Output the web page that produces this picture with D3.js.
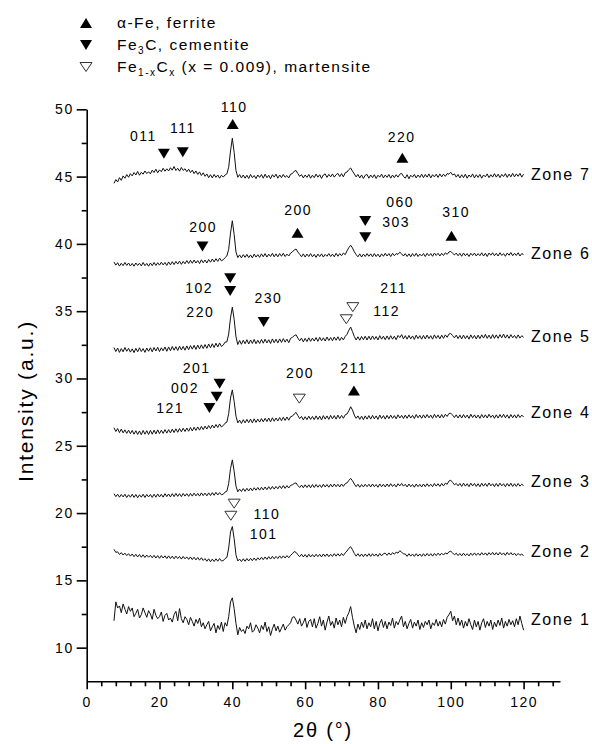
<!DOCTYPE html>
<html><head><meta charset="utf-8">
<script src="https://cdn.jsdelivr.net/npm/d3@7"></script>
<style>
body{margin:0;background:#fff;}
svg{display:block;}
text{font-family:Arial,"Liberation Sans",sans-serif;fill:#000;}
</style></head><body>
<svg id="chart" width="592" height="744"></svg>
<script>
// ---------------- DATA ----------------
// 2theta sampling grid (degrees), 7.5 .. 120 every 0.5
const twoTheta = d3.range(7.5, 120.001, 0.5);

const zone1 = [
12.00,13.40,12.95,13.10,12.60,13.25,12.85,12.50,13.05,12.70,
12.95,12.30,12.55,12.85,12.20,12.45,12.95,12.60,12.25,12.75,
12.50,12.10,12.85,12.40,12.15,12.30,12.65,11.95,12.40,12.55,
12.05,12.20,11.90,12.45,12.70,12.00,12.90,12.15,11.85,12.30,
12.10,11.70,12.25,11.95,11.60,12.10,11.80,12.20,11.55,11.85,
11.40,11.70,11.95,11.25,11.55,11.80,11.10,11.65,11.35,11.90,
11.20,11.85,11.60,12.30,13.40,13.70,12.90,11.80,10.95,11.50,
11.20,11.35,11.05,11.60,11.40,11.85,11.15,11.30,11.70,11.45,
11.10,11.65,11.35,11.90,11.20,11.55,10.90,11.40,11.75,11.25,
11.60,11.15,11.45,11.75,11.30,11.55,11.70,11.85,12.25,12.30,
12.05,11.75,12.15,11.60,11.85,12.20,11.50,11.95,12.10,11.55,
12.15,11.45,11.80,12.30,11.60,12.05,11.30,11.90,12.35,11.65,
11.95,11.45,12.20,11.70,12.05,11.55,12.25,11.80,12.30,12.60,
13.05,12.25,11.60,11.10,11.75,11.35,11.90,11.50,12.05,11.40,
11.85,11.55,12.15,11.40,11.95,11.25,11.80,12.10,11.50,11.95,
11.40,11.90,11.65,12.20,11.45,11.95,11.70,12.05,12.35,11.55,
11.95,11.40,11.80,12.10,11.45,11.90,11.60,12.05,11.35,11.85,
11.50,11.95,11.70,12.05,11.40,11.85,11.65,12.10,11.60,11.95,
11.55,12.10,11.75,12.25,12.45,12.70,12.00,12.35,11.70,12.20,
11.65,12.05,11.45,11.95,11.60,12.15,11.70,11.35,12.05,11.55,
11.95,11.30,11.85,12.15,11.50,11.95,11.60,12.05,11.35,11.90,
11.55,12.05,11.65,12.20,11.45,11.95,11.60,12.10,11.70,12.00,
11.55,12.15,11.70,12.35,11.80,11.30];

const zone2 = [
17.30,17.08,17.12,16.92,17.06,16.88,17.02,16.84,16.98,16.80,
16.96,16.76,16.94,16.74,16.92,16.72,16.90,16.70,16.88,16.72,
16.86,16.68,16.86,16.66,16.84,16.64,16.84,16.66,16.82,16.62,
16.82,16.62,16.80,16.60,16.80,16.62,16.78,16.58,16.78,16.60,
16.74,16.56,16.74,16.54,16.72,16.52,16.70,16.50,16.68,16.48,
16.62,16.42,16.60,16.38,16.58,16.40,16.60,16.42,16.62,16.44,
16.46,16.62,16.70,17.40,18.60,19.00,18.10,16.90,16.44,16.58,
16.40,16.60,16.42,16.62,16.44,16.64,16.46,16.66,16.48,16.68,
16.52,16.72,16.54,16.74,16.56,16.76,16.58,16.78,16.60,16.78,
16.62,16.82,16.64,16.82,16.66,16.84,16.68,16.86,16.98,17.14,
17.08,16.90,16.76,16.94,16.74,16.92,16.72,16.94,16.74,16.92,
16.74,16.94,16.76,16.94,16.74,16.96,16.78,16.96,16.76,16.94,
16.78,16.98,16.80,16.98,16.80,17.00,16.84,17.04,17.18,17.38,
17.50,17.28,17.00,16.80,16.98,16.78,16.96,16.76,16.96,16.78,
16.98,16.78,16.98,16.80,16.96,16.78,17.00,16.82,16.98,17.02,
16.86,17.04,16.88,17.06,16.94,17.10,17.02,17.20,17.10,16.96,
16.96,16.78,16.98,16.80,16.96,16.78,16.98,16.80,16.96,16.78,
16.98,16.80,17.00,16.82,16.98,16.80,17.00,16.84,17.02,16.86,
17.02,16.88,17.04,16.96,17.12,17.16,17.04,16.90,17.02,16.84,
17.00,16.82,17.02,16.84,16.98,16.82,17.02,16.86,17.04,16.86,
17.02,16.86,17.06,16.88,17.04,16.86,17.06,16.90,17.08,16.88,
17.06,16.88,17.08,16.90,17.04,16.86,17.08,16.90,17.06,16.88,
17.02,16.84,17.00,16.86,16.96,16.82];

const zone3 = [
21.44,21.22,21.40,21.18,21.38,21.20,21.40,21.16,21.36,21.18,
21.40,21.16,21.38,21.14,21.36,21.18,21.40,21.16,21.38,21.20,
21.38,21.16,21.40,21.18,21.42,21.20,21.40,21.18,21.44,21.22,
21.42,21.20,21.44,21.22,21.46,21.24,21.44,21.22,21.46,21.26,
21.44,21.24,21.46,21.26,21.48,21.28,21.46,21.26,21.50,21.30,
21.48,21.28,21.50,21.30,21.52,21.32,21.54,21.34,21.52,21.36,
21.40,21.56,21.62,22.20,23.30,23.95,23.10,22.00,21.58,21.78,
21.60,21.82,21.62,21.84,21.64,21.86,21.66,21.88,21.70,21.90,
21.70,21.92,21.72,21.94,21.74,21.96,21.76,21.98,21.78,21.98,
21.80,22.02,21.82,22.04,21.84,22.04,21.86,22.06,22.10,22.20,
22.24,22.04,21.90,22.08,21.88,22.10,21.90,22.10,21.88,22.12,
21.90,22.12,21.92,22.10,21.90,22.14,21.94,22.12,21.92,22.14,
21.94,22.16,21.96,22.14,21.94,22.16,21.98,22.18,22.24,22.42,
22.58,22.40,22.16,21.96,22.14,21.92,22.12,21.94,22.14,21.96,
22.14,21.94,22.16,21.96,22.12,21.92,22.16,21.96,22.14,21.94,
22.16,21.96,22.18,21.98,22.14,21.94,22.18,22.02,22.20,22.00,
22.14,21.94,22.16,21.96,22.12,21.92,22.16,21.96,22.14,21.94,
22.16,21.96,22.18,21.98,22.14,21.96,22.20,22.00,22.18,21.98,
22.20,22.02,22.22,22.14,22.38,22.44,22.28,22.10,22.20,22.02,
22.20,21.98,22.22,22.00,22.18,21.96,22.22,22.02,22.20,21.98,
22.18,21.96,22.22,22.00,22.20,21.98,22.24,22.02,22.18,21.96,
22.20,21.98,22.22,22.02,22.18,21.96,22.20,22.00,22.22,21.98,
22.18,21.98,22.20,22.00,22.14,22.04];

const zone4 = [
26.34,26.06,26.28,25.98,26.24,25.96,26.18,25.92,26.16,25.90,
26.14,25.86,26.12,25.84,26.10,25.82,26.14,25.86,26.12,25.84,
26.14,25.86,26.16,25.88,26.18,25.90,26.16,25.92,26.20,25.94,
26.20,25.96,26.24,25.98,26.26,26.00,26.28,26.04,26.30,26.06,
26.32,26.08,26.36,26.10,26.38,26.14,26.40,26.16,26.44,26.20,
26.46,26.24,26.50,26.28,26.54,26.32,26.58,26.36,26.62,26.40,
26.50,26.68,26.75,27.40,28.55,29.15,28.30,27.20,26.70,26.90,
26.66,26.94,26.70,26.96,26.72,26.98,26.70,27.00,26.74,26.98,
26.76,27.02,26.78,27.04,26.80,27.06,26.78,27.08,26.82,27.06,
26.84,27.10,26.86,27.12,26.88,27.14,26.90,27.16,27.20,27.36,
27.48,27.24,27.02,27.18,26.92,27.16,26.94,27.20,26.96,27.18,
26.94,27.22,26.96,27.20,26.92,27.24,26.98,27.22,26.96,27.26,
27.00,27.24,26.98,27.28,27.02,27.26,27.04,27.30,27.36,27.60,
27.90,27.66,27.28,27.04,27.22,26.96,27.20,26.94,27.22,26.98,
27.24,26.98,27.26,27.00,27.22,26.96,27.28,27.02,27.24,26.98,
27.26,27.02,27.28,27.04,27.24,27.00,27.30,27.06,27.26,27.02,
27.28,27.04,27.30,27.06,27.26,27.02,27.32,27.08,27.28,27.04,
27.30,27.06,27.32,27.08,27.28,27.04,27.34,27.10,27.30,27.06,
27.32,27.08,27.34,27.18,27.40,27.42,27.28,27.10,27.30,27.06,
27.30,27.06,27.32,27.08,27.28,27.04,27.34,27.10,27.30,27.06,
27.28,27.04,27.32,27.08,27.30,27.06,27.34,27.10,27.28,27.04,
27.30,27.06,27.32,27.10,27.34,27.08,27.30,27.04,27.32,27.08,
27.30,27.06,27.32,27.10,27.28,27.14];

const zone5 = [
32.30,32.00,32.26,31.94,32.22,31.98,32.30,32.02,32.24,31.96,
32.20,31.92,32.24,31.98,32.28,32.00,32.22,31.94,32.26,32.02,
32.28,31.98,32.30,32.04,32.32,32.00,32.28,32.06,32.34,32.02,
32.34,32.06,32.38,32.10,32.36,32.08,32.40,32.12,32.38,32.10,
32.42,32.14,32.44,32.18,32.46,32.16,32.48,32.20,32.50,32.22,
32.52,32.24,32.56,32.28,32.58,32.30,32.62,32.34,32.64,32.38,
32.48,32.70,32.72,33.30,34.50,35.30,34.40,33.10,32.52,32.82,
32.54,32.84,32.58,32.88,32.56,32.86,32.60,32.90,32.58,32.84,
32.60,32.90,32.62,32.92,32.64,32.88,32.60,32.94,32.66,32.92,
32.64,32.94,32.68,32.96,32.70,32.92,32.66,32.98,33.06,33.18,
33.25,33.00,32.80,33.00,32.72,32.98,32.74,33.02,32.76,33.00,
32.78,33.04,32.76,33.06,32.80,33.02,32.78,33.08,32.82,33.04,
32.80,33.08,32.84,33.10,32.82,33.06,32.86,33.12,33.28,33.58,
33.82,33.48,33.12,32.86,33.10,32.84,33.12,32.88,33.14,32.86,
33.14,32.88,33.16,32.90,33.12,32.86,33.18,32.92,33.14,32.88,
33.16,32.90,33.18,32.92,33.14,32.88,33.20,33.04,33.26,32.94,
33.18,32.92,33.20,32.94,33.16,32.90,33.22,32.96,33.18,32.92,
33.20,32.94,33.22,32.96,33.18,32.92,33.24,32.98,33.20,32.94,
33.22,32.98,33.24,33.06,33.30,33.34,33.18,33.02,33.22,32.96,
33.20,32.94,33.22,32.96,33.18,32.92,33.24,32.98,33.20,32.94,
33.22,32.96,33.24,33.00,33.28,32.98,33.22,32.96,33.26,32.98,
33.24,32.98,33.26,33.02,33.30,33.00,33.24,32.98,33.26,33.02,
33.20,32.98,33.24,33.00,33.18,33.06];

const zone6 = [
38.65,38.42,38.60,38.35,38.56,38.38,38.62,38.40,38.58,38.36,
38.55,38.34,38.58,38.40,38.56,38.36,38.62,38.38,38.55,38.34,
38.58,38.38,38.62,38.40,38.60,38.42,38.64,38.44,38.62,38.40,
38.66,38.44,38.68,38.46,38.70,38.50,38.72,38.48,38.70,38.52,
38.76,38.54,38.78,38.56,38.80,38.58,38.76,38.54,38.82,38.60,
38.80,38.58,38.84,38.64,38.88,38.66,38.90,38.70,38.94,38.74,
38.82,38.98,39.10,39.60,40.80,41.72,40.70,39.40,38.98,39.18,
38.96,39.20,39.00,39.22,38.98,39.18,38.96,39.24,39.02,39.20,
39.00,39.26,39.04,39.28,39.02,39.24,39.06,39.30,39.04,39.26,
39.04,39.28,39.08,39.30,39.06,39.24,39.10,39.32,39.40,39.55,
39.62,39.40,39.22,39.04,39.26,39.02,39.24,39.06,39.28,39.04,
39.22,39.00,39.24,39.06,39.26,39.02,39.22,39.08,39.28,39.06,
39.24,39.04,39.30,39.08,39.28,39.12,39.32,39.20,39.48,39.72,
39.90,39.70,39.42,39.20,39.04,39.26,39.02,39.24,39.06,39.28,
39.08,39.26,39.04,39.28,39.06,39.24,39.02,39.26,39.08,39.30,
39.10,39.28,39.06,39.30,39.12,39.28,39.22,39.38,39.26,39.10,
39.28,39.06,39.26,39.04,39.28,39.08,39.30,39.06,39.24,39.10,
39.28,39.06,39.30,39.12,39.28,39.08,39.32,39.14,39.30,39.10,
39.30,39.14,39.34,39.22,39.40,39.44,39.30,39.18,39.32,39.12,
39.30,39.08,39.32,39.12,39.28,39.06,39.30,39.14,39.32,39.10,
39.28,39.12,39.34,39.10,39.30,39.06,39.32,39.16,39.34,39.12,
39.30,39.10,39.34,39.14,39.28,39.08,39.32,39.16,39.36,39.12,
39.30,39.14,39.34,39.10,39.28,39.20];

const zone7 = [
44.50,44.78,44.60,44.92,44.72,45.05,44.88,45.15,44.95,45.22,
45.05,45.30,45.12,45.38,45.10,45.32,45.18,45.42,45.22,45.36,
45.20,45.48,45.30,45.55,45.28,45.50,45.36,45.62,45.40,45.58,
45.42,45.66,45.48,45.75,45.45,45.62,45.40,45.68,45.46,45.58,
45.36,45.55,45.30,45.48,45.22,45.42,45.16,45.35,45.08,45.28,
45.02,45.20,44.92,45.14,44.90,45.16,44.94,45.12,44.88,45.10,
44.96,45.12,45.20,45.70,46.90,47.85,46.80,45.45,44.95,45.15,
44.90,45.12,44.88,45.10,44.86,45.16,44.92,45.08,44.85,45.12,
44.94,45.15,44.88,45.18,44.92,45.10,44.84,45.14,44.96,45.18,
44.88,45.12,44.92,45.16,44.95,45.08,44.90,45.18,45.22,45.40,
45.45,45.22,45.02,45.15,44.90,45.12,44.94,45.16,44.88,45.10,
44.92,45.18,44.96,45.14,44.86,45.12,45.20,44.94,45.16,44.98,
45.20,44.96,45.14,45.24,45.00,45.22,44.98,45.28,45.34,45.52,
45.64,45.40,45.20,44.98,45.16,44.90,45.12,44.86,45.10,45.16,
44.88,45.12,44.92,45.14,44.86,45.10,44.96,45.18,44.90,45.12,
44.94,45.16,44.88,45.12,44.92,45.14,44.96,45.18,45.24,45.02,
44.88,45.14,44.84,45.10,44.96,45.16,44.90,45.12,44.94,45.18,
44.92,45.16,44.96,45.20,44.90,45.14,44.98,45.18,44.94,45.20,
44.98,45.18,45.02,45.22,45.18,45.32,45.12,45.20,44.96,45.16,
44.90,45.14,44.92,45.18,44.88,45.12,44.96,45.20,44.90,45.14,
44.94,45.16,44.88,45.12,44.98,45.20,44.92,45.14,44.96,45.22,
44.96,45.18,44.92,45.16,45.00,45.22,44.94,45.18,44.98,45.24,
44.98,45.20,45.02,45.24,44.96,45.18];

const zoneNames = ["Zone 1","Zone 2","Zone 3","Zone 4","Zone 5","Zone 6","Zone 7"];
const zoneLabelLevel = [12.10, 17.17, 22.35, 27.47, 33.14, 39.29, 45.16];

const xMajorTicks = [0, 20, 40, 60, 80, 100, 120];
const xMinorTicks = [4, 8, 12, 16, 24, 28, 32, 36, 44, 48, 52, 56, 64, 68, 72, 76, 84, 88, 92, 96, 104, 108, 112, 116, 124, 128];
const yMajorTicks = [10, 15, 20, 25, 30, 35, 40, 45, 50];
const yMinorTicks = [12.5, 17.5, 22.5, 27.5, 32.5, 37.5, 42.5, 47.5];

// phase markers: "ferrite" (filled up), "cementite" (filled down), "martensite" (open down)
const markerType = ["cementite","cementite","ferrite","ferrite",
  "cementite","ferrite","cementite","cementite","ferrite",
  "cementite","cementite","cementite","martensite","martensite",
  "cementite","cementite","cementite","martensite","ferrite",
  "martensite","martensite"];
const markerX = [21.2, 26.4, 40.1, 86.7,
  31.8, 57.9, 76.5, 76.5, 100.2,
  39.4, 39.4, 48.6, 73.1, 71.3,
  36.5, 35.7, 33.7, 58.4, 73.4,
  40.5, 39.6];
const markerY = [46.7, 46.8, 48.9, 46.4,
  39.8, 40.83, 41.7, 40.5, 40.6,
  37.45, 36.5, 34.2, 35.3, 34.4,
  29.6, 28.65, 27.8, 28.5, 29.1,
  20.7, 19.8];

// Miller index labels
const hklText = ["011","111","110","220",
  "200","200","060","303","310",
  "102","220","230","211","112",
  "201","002","121","200","211",
  "110","101"];
const hklX = [15.6, 26.4, 40.5, 86.5,
  32.0, 58.1, 86.1, 85.0, 101.5,
  30.9, 31.2, 49.9, 84.3, 82.4,
  30.2, 27.0, 22.9, 58.6, 73.3,
  49.5, 48.6];
const hklY = [47.67, 48.22, 49.78, 47.59,
  40.91, 42.15, 42.76, 41.23, 42.02,
  36.33, 34.59, 35.59, 36.37, 34.64,
  30.39, 28.90, 27.41, 30.01, 30.39,
  19.54, 18.08];

const legendTypes = ["ferrite","cementite","martensite"];

// ---------------- DRAW ----------------
const svg = d3.select("#chart");
const x = d3.scaleLinear().domain([0, 130]).range([86.7, 560]);
const y = d3.scaleLinear().domain([7.5, 50]).range([681.3, 109.3]);

const zones = [zone1, zone2, zone3, zone4, zone5, zone6, zone7];
const line = d3.line().x((d, i) => x(twoTheta[i])).y(d => y(d));

svg.append("g").selectAll("path").data(zones).join("path")
  .attr("d", d => line(d))
  .attr("fill", "none")
  .attr("stroke", "#111")
  .attr("stroke-width", 1)
  .attr("stroke-linejoin", "round");

// axes
const axisFont = g => g.selectAll("text")
  .attr("font-family", "Arial, 'Liberation Sans', sans-serif")
  .attr("font-size", 14).attr("letter-spacing", "1.5px").attr("fill", "#000");

svg.append("g").attr("transform", "translate(86.7,0)")
  .call(d3.axisLeft(y).tickValues(yMajorTicks).tickSize(10).tickSizeOuter(0).tickPadding(3))
  .call(axisFont);
svg.append("g").attr("transform", "translate(86.7,0)")
  .call(d3.axisLeft(y).tickValues(yMinorTicks).tickSize(5).tickSizeOuter(0).tickFormat(""))
  .call(g => g.select(".domain").remove());

svg.append("g").attr("transform", "translate(0,681.3)")
  .call(d3.axisBottom(x).tickValues(xMajorTicks).tickSize(8).tickSizeOuter(0).tickPadding(8))
  .call(axisFont);
svg.append("g").attr("transform", "translate(0,681.3)")
  .call(d3.axisBottom(x).tickValues(xMinorTicks).tickSize(5).tickSizeOuter(0).tickFormat(""))
  .call(g => g.select(".domain").remove());

svg.selectAll(".domain, .tick line").attr("stroke", "#000").attr("stroke-width", 1.6);

// axis titles
svg.append("text")
  .attr("transform", "translate(33,401) rotate(-90)")
  .attr("text-anchor", "middle").attr("font-size", 21).attr("letter-spacing", "1.8px")
  .text("Intensity (a.u.)");
svg.append("text")
  .attr("x", 323).attr("y", 737)
  .attr("text-anchor", "middle").attr("font-size", 20).attr("letter-spacing", "1.8px")
  .text("2θ (°)");

// zone labels
svg.append("g").selectAll("text").data(zoneNames).join("text")
  .attr("x", 531).attr("y", (d, i) => y(zoneLabelLevel[i]))
  .attr("dy", "0.35em").attr("font-size", 16).attr("letter-spacing", "1.6px")
  .text(d => d);

// marker shapes
function triPath(type) {
  const w = 6, h = 5;
  if (type === "ferrite") return `M0,${-h}L${w},${h}L${-w},${h}Z`;
  if (type === "cementite") return `M${-w},${-h}L${w},${-h}L0,${h}Z`;
  return `M${-w},${-4.5}L${w},${-4.5}L0,${4.5}Z`;
}
function styleMarker(sel, type) {
  if (type === "martensite") sel.attr("fill", "#fff").attr("stroke", "#333").attr("stroke-width", 1);
  else sel.attr("fill", "#000").attr("stroke", "none");
}

svg.append("g").selectAll("path").data(markerType).join("path")
  .attr("transform", (d, i) => `translate(${x(markerX[i])},${y(markerY[i])})`)
  .attr("d", d => triPath(d))
  .each(function(d) { styleMarker(d3.select(this), d); });

svg.append("g").selectAll("text").data(hklText).join("text")
  .attr("x", (d, i) => x(hklX[i])).attr("y", (d, i) => y(hklY[i]))
  .attr("text-anchor", "middle").attr("font-size", 14).attr("letter-spacing", "1.5px")
  .text(d => d);

// legend
const legendRowY = [23, 45, 67];
const lg = svg.append("g");
legendTypes.forEach((t, i) => {
  lg.append("path").attr("transform", `translate(86,${legendRowY[i]})`).attr("d", triPath(t))
    .call(s => styleMarker(s, t));
});
const lt = lg.append("g").attr("font-size", 15.5).attr("letter-spacing", "1.5px");
lt.append("text").attr("x", 117).attr("y", legendRowY[0] + 5).text("α-Fe, ferrite");
const t2 = lt.append("text").attr("x", 117).attr("y", legendRowY[1] + 5);
t2.append("tspan").text("Fe");
t2.append("tspan").attr("font-size", 10).attr("dy", 4).text("3");
t2.append("tspan").attr("dy", -4).text("C, cementite");
const t3 = lt.append("text").attr("x", 117).attr("y", legendRowY[2] + 5);
t3.append("tspan").text("Fe");
t3.append("tspan").attr("font-size", 10).attr("dy", 4).text("1-x");
t3.append("tspan").attr("dy", -4).text("C");
t3.append("tspan").attr("font-size", 10).attr("dy", 4).text("x");
t3.append("tspan").attr("dy", -4).text(" (x = 0.009), martensite");
</script>
</body></html>
